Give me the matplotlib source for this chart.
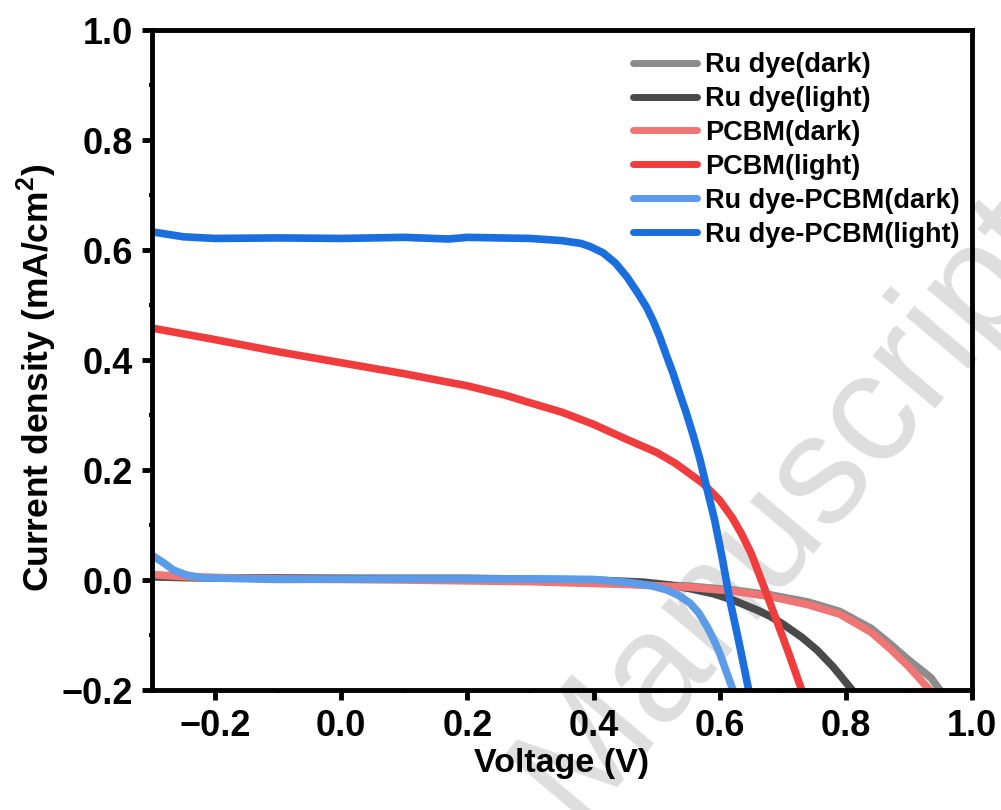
import matplotlib
matplotlib.use("Agg")
import matplotlib.pyplot as plt
from matplotlib.ticker import MultipleLocator

plt.rcParams['font.family'] = ['Liberation Sans', 'DejaVu Sans']
plt.rcParams['font.weight'] = 'bold'
plt.rcParams['mathtext.fontset'] = 'custom'
plt.rcParams['mathtext.bf'] = 'Liberation Sans:bold'
plt.rcParams['mathtext.rm'] = 'Liberation Sans:bold'

labels = ["Ru dye(dark)", "Ru dye(light)", "PCBM(dark)", "PCBM(light)",
          "Ru dye-PCBM(dark)", "Ru dye-PCBM(light)"]
colors = ["#8c8c8c", "#4a4a4a", "#f07676", "#f03c3c", "#5c9be8", "#1a6ede"]

ru_dark_v = [-0.3, -0.25, -0.1, 0.1, 0.3, 0.45, 0.55, 0.62, 0.68, 0.74, 0.79, 0.84, 0.87, 0.9, 0.92, 0.935, 0.949]
ru_dark_j = [0.006, 0.004, 0.003, 0.002, -0.002, -0.006, -0.011, -0.018, -0.027, -0.04, -0.057, -0.088, -0.116, -0.146, -0.164, -0.178, -0.2]

ru_light_v = [-0.3, -0.2, 0.0, 0.2, 0.4, 0.48, 0.52, 0.55, 0.59, 0.62, 0.66, 0.68, 0.70, 0.73, 0.754, 0.78, 0.81]
ru_light_j = [0.006, 0.004, 0.003, 0.003, 0.0, -0.004, -0.009, -0.015, -0.025, -0.036, -0.055, -0.066, -0.08, -0.104, -0.127, -0.158, -0.2]

pcbm_dark_v = [-0.3, -0.25, -0.1, 0.1, 0.3, 0.45, 0.55, 0.62, 0.68, 0.74, 0.79, 0.84, 0.87, 0.9, 0.933]
pcbm_dark_j = [0.01, 0.006, 0.002, 0.0, -0.003, -0.008, -0.013, -0.02, -0.03, -0.045, -0.062, -0.095, -0.125, -0.158, -0.2]

pcbm_light_v = [-0.3, -0.2, -0.1, 0.0, 0.1, 0.2, 0.26, 0.3, 0.35, 0.4, 0.45, 0.5, 0.53, 0.573, 0.6, 0.62, 0.635, 0.65, 0.67, 0.69, 0.71, 0.73]
pcbm_light_j = [0.458, 0.437, 0.415, 0.395, 0.375, 0.353, 0.336, 0.322, 0.305, 0.283, 0.257, 0.232, 0.212, 0.176, 0.145, 0.113, 0.083, 0.048, -0.012, -0.073, -0.135, -0.2]

rp_dark_v = [-0.3, -0.28, -0.266, -0.245, -0.22, -0.1, 0.1, 0.3, 0.4, 0.46, 0.49, 0.516, 0.535, 0.553, 0.567, 0.58, 0.59, 0.60, 0.61, 0.621]
rp_dark_j = [0.045, 0.03, 0.018, 0.009, 0.004, 0.001, 0.002, 0.002, 0.001, -0.005, -0.01, -0.018, -0.028, -0.042, -0.06, -0.085, -0.107, -0.133, -0.165, -0.2]

rp_light_v = [-0.3, -0.25, -0.2, -0.1, 0.0, 0.1, 0.17, 0.2, 0.3, 0.35, 0.38, 0.395, 0.415, 0.435, 0.453, 0.47, 0.484, 0.495, 0.505, 0.515, 0.526, 0.536, 0.547, 0.558, 0.569, 0.58, 0.592, 0.604, 0.616, 0.63, 0.646]
rp_light_j = [0.633, 0.624, 0.621, 0.622, 0.621, 0.623, 0.620, 0.623, 0.621, 0.617, 0.612, 0.606, 0.595, 0.576, 0.551, 0.522, 0.496, 0.47, 0.442, 0.41, 0.376, 0.341, 0.304, 0.263, 0.218, 0.165, 0.109, 0.04, -0.036, -0.11, -0.2]

series = [(ru_dark_v, ru_dark_j), (ru_light_v, ru_light_j), (pcbm_dark_v, pcbm_dark_j),
          (pcbm_light_v, pcbm_light_j), (rp_dark_v, rp_dark_j), (rp_light_v, rp_light_j)]

fig = plt.figure(figsize=(10.01, 8.1), dpi=100)
ax = fig.add_axes([152/1001, 1-690/810, (972-152)/1001, (690-30)/810])
ax.set_facecolor('none')

fig.text(0.787, 0.375, "Manuscript", rotation=50, fontsize=112, color="#dedede",
         ha='center', va='center', fontweight='normal', zorder=-1)

for (v, j), c, lab in zip(series, colors, labels):
    ax.plot(v, j, color=c, lw=5.5, label=lab, solid_capstyle='round', solid_joinstyle='round')

ax.set_xlim(-0.3, 1.0)
ax.set_ylim(-0.2, 1.0)
ax.xaxis.set_minor_locator(MultipleLocator(0.1))
ax.yaxis.set_minor_locator(MultipleLocator(0.1))
ax.set_xticks([-0.2, 0.0, 0.2, 0.4, 0.6, 0.8, 1.0])
ax.set_xticklabels(["\u22120.2", "0.0", "0.2", "0.4", "0.6", "0.8", "1.0"])
ax.set_yticks([-0.2, 0.0, 0.2, 0.4, 0.6, 0.8, 1.0])
ax.set_yticklabels(["\u22120.2", "0.0", "0.2", "0.4", "0.6", "0.8", "1.0"])

for s in ax.spines.values():
    s.set_linewidth(3.5)
ax.tick_params(which='major', direction='out', length=7.5, width=3.5, labelsize=26, pad=6)
ax.tick_params(which='minor', direction='out', length=2.5, width=3)
for lbl in ax.get_xticklabels() + ax.get_yticklabels():
    lbl.set_fontweight('bold')

ax.set_xlabel("Voltage (V)", fontsize=24.5, fontweight='bold', labelpad=3)
ax.set_ylabel(r"Current density (mA/cm$^{\mathbf{2}}$)", fontsize=25.5, fontweight='bold')
ax.yaxis.set_label_coords(-0.114, 0.473)

leg = ax.legend(loc='upper right', bbox_to_anchor=(1.0085, 0.995), frameon=False,
                prop={'size': 19.5, 'weight': 'bold'}, handlelength=2.35,
                handletextpad=0.3, labelspacing=0.29, borderaxespad=0.3)
for h in leg.get_lines():
    h.set_linewidth(5)
    h.set_solid_capstyle('round')

fig.savefig("out.png", dpi=100)
